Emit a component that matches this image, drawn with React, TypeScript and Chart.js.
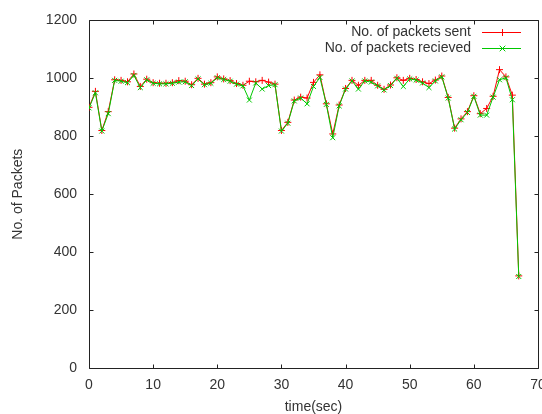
import React, { useEffect, useRef } from 'react';
import { Chart, registerables } from 'chart.js';

Chart.register(...registerables);

const seconds = [
  0, 1, 2, 3, 4, 5, 6, 7, 8, 9, 10, 11, 12, 13, 14, 15, 16, 17, 18, 19,
  20, 21, 22, 23, 24, 25, 26, 27, 28, 29, 30, 31, 32, 33, 34, 35, 36, 37, 38, 39,
  40, 41, 42, 43, 44, 45, 46, 47, 48, 49, 50, 51, 52, 53, 54, 55, 56, 57, 58, 59,
  60, 61, 62, 63, 64, 65, 66, 67,
];

const packetsSent = [
  900, 955, 820, 885, 995, 993, 988, 1015, 972, 997, 985, 983, 983, 985, 992, 990, 978, 1000, 980, 985,
  1005, 998, 992, 982, 976, 990, 988, 993, 987, 980, 820, 848, 925, 935, 932, 986, 1012, 912, 808, 908,
  965, 993, 976, 993, 993, 976, 962, 977, 1002, 993, 1000, 996, 988, 982, 994, 1008, 934, 828, 860, 885,
  940, 878, 896, 938, 1030, 1005, 942, 318,
];

const packetsReceived = [
  898, 950, 818, 878, 993, 990, 985, 1010, 968, 995, 983, 981, 981, 983, 987, 988, 975, 998, 978, 983,
  1002, 996, 990, 980, 974, 925, 984, 963, 975, 978, 818, 845, 922, 932, 912, 972, 1003, 910, 795, 905,
  963, 991, 963, 991, 987, 974, 960, 975, 1000, 972, 998, 994, 984, 968, 991, 1005, 932, 825, 857, 882,
  938, 873, 873, 935, 995, 1002, 926, 316,
];

const xTicks = [0, 10, 20, 30, 40, 50, 60, 70];
const yTicks = [0, 200, 400, 600, 800, 1000, 1200];
const seriesLabels = ['No. of packets sent', 'No. of packets recieved'];
const xTitle = 'time(sec)';
const yTitle = 'No. of Packets';

const FONT = '"Liberation Sans", Arial, sans-serif';
const TEXT = '#333333';
const FRAME = '#222222';
const RED = 'rgb(255,0,0)';
const GREEN = 'rgb(0,200,0)';

const framePlugin = {
  id: 'gnuFrame',
  beforeDatasetsDraw(chart: any) {
    const { ctx, chartArea } = chart;
    const xs = chart.scales.x;
    const ys = chart.scales.y;
    const l = Math.round(chartArea.left) + 0.5;
    const r = Math.round(chartArea.right) + 0.5;
    const t = Math.round(chartArea.top) + 0.5;
    const b = Math.round(chartArea.bottom) + 0.5;
    ctx.save();
    ctx.strokeStyle = FRAME;
    ctx.lineWidth = 1;
    ctx.beginPath();
    ctx.rect(l, t, r - l, b - t);
    const len = 4;
    for (const v of yTicks) {
      const y = Math.round(ys.getPixelForValue(v)) + 0.5;
      ctx.moveTo(l, y);
      ctx.lineTo(l + len, y);
      ctx.moveTo(r, y);
      ctx.lineTo(r - len, y);
    }
    for (const v of xTicks) {
      const x = Math.round(xs.getPixelForValue(v)) + 0.5;
      ctx.moveTo(x, b);
      ctx.lineTo(x, b - len);
      ctx.moveTo(x, t);
      ctx.lineTo(x, t + len);
    }
    ctx.stroke();
    ctx.restore();
  },
};

const legendPlugin = {
  id: 'gnuLegend',
  afterDraw(chart: any) {
    const { ctx, chartArea } = chart;
    const right = chartArea.right;
    ctx.save();
    ctx.font = `14px ${FONT}`;
    ctx.textAlign = 'right';
    ctx.textBaseline = 'middle';
    chart.data.datasets.forEach((ds: any, i: number) => {
      const y = Math.round(chartArea.top + 11.5 + i * 16) + 0.5;
      ctx.fillStyle = TEXT;
      ctx.fillText(ds.label, right - 67, y);
      const x0 = right - 56;
      const x1 = right - 17;
      const xm = Math.round((x0 + x1) / 2) + 0.5;
      ctx.strokeStyle = ds.borderColor;
      ctx.lineWidth = 1;
      ctx.beginPath();
      ctx.moveTo(x0, y);
      ctx.lineTo(x1, y);
      const s = 3.5;
      if (ds.pointStyle === 'cross') {
        ctx.moveTo(xm - s, y);
        ctx.lineTo(xm + s, y);
        ctx.moveTo(xm, y - s);
        ctx.lineTo(xm, y + s);
      } else {
        const d = s * 0.8;
        ctx.moveTo(xm - d, y - d);
        ctx.lineTo(xm + d, y + d);
        ctx.moveTo(xm - d, y + d);
        ctx.lineTo(xm + d, y - d);
      }
      ctx.stroke();
    });
    ctx.restore();
  },
};

export default function App() {
  const canvasRef = useRef<HTMLCanvasElement | null>(null);

  useEffect(() => {
    const canvas = canvasRef.current;
    if (!canvas) return;
    const chart = new Chart(canvas, {
      type: 'line',
      data: {
        datasets: [
          {
            label: seriesLabels[0],
            data: seconds.map((s, i) => ({ x: s, y: packetsSent[i] })),
            borderColor: RED,
            backgroundColor: RED,
            borderWidth: 1,
            pointStyle: 'cross',
            pointRadius: 3.5,
            pointBorderWidth: 1,
            pointBorderColor: RED,
            fill: false,
            tension: 0,
            order: 1,
          },
          {
            label: seriesLabels[1],
            data: seconds.map((s, i) => ({ x: s, y: packetsReceived[i] })),
            borderColor: GREEN,
            backgroundColor: GREEN,
            borderWidth: 1,
            pointStyle: 'crossRot',
            pointRadius: 3.5,
            pointBorderWidth: 1,
            pointBorderColor: GREEN,
            fill: false,
            tension: 0,
            order: 0,
          },
        ],
      },
      options: {
        animation: false,
        responsive: false,
        devicePixelRatio: 1,
        layout: { padding: { left: 0, top: 19, right: 22, bottom: 0 } },
        plugins: {
          legend: { display: false },
          tooltip: { enabled: false },
        },
        scales: {
          x: {
            type: 'linear',
            min: 0,
            max: 70,
            afterBuildTicks: (scale: any) => {
              scale.ticks = xTicks.map((v) => ({ value: v }));
            },
            afterFit: (scale: any) => {
              scale.height = 46;
            },
            grid: { display: false, drawTicks: false },
            border: { display: false },
            ticks: {
              padding: 9,
              color: TEXT,
              font: { family: FONT, size: 14 },
              maxRotation: 0,
              autoSkip: false,
              callback: (v: any) => String(v),
            },
            title: {
              display: true,
              text: xTitle,
              color: TEXT,
              font: { family: FONT, size: 14 },
              padding: { top: 0, bottom: -2 },
            },
          },
          y: {
            type: 'linear',
            min: 0,
            max: 1200,
            afterBuildTicks: (scale: any) => {
              scale.ticks = yTicks.map((v) => ({ value: v }));
            },
            afterFit: (scale: any) => {
              scale.width = 89;
            },
            grid: { display: false, drawTicks: false },
            border: { display: false },
            ticks: {
              padding: 12,
              color: TEXT,
              font: { family: FONT, size: 14 },
              autoSkip: false,
              callback: (v: any) => String(v),
            },
            title: {
              display: true,
              text: yTitle,
              color: TEXT,
              font: { family: FONT, size: 14 },
              padding: { top: 10, bottom: 0 },
            },
          },
        },
      },
      plugins: [framePlugin, legendPlugin],
    });
    return () => chart.destroy();
  }, []);

  return (
    <div
      style={{
        position: 'absolute',
        left: 0,
        top: 0,
        width: 542,
        height: 414,
        overflow: 'hidden',
        background: '#ffffff',
      }}
    >
      <canvas ref={canvasRef} width={560} height={414} style={{ display: 'block' }} />
    </div>
  );
}
